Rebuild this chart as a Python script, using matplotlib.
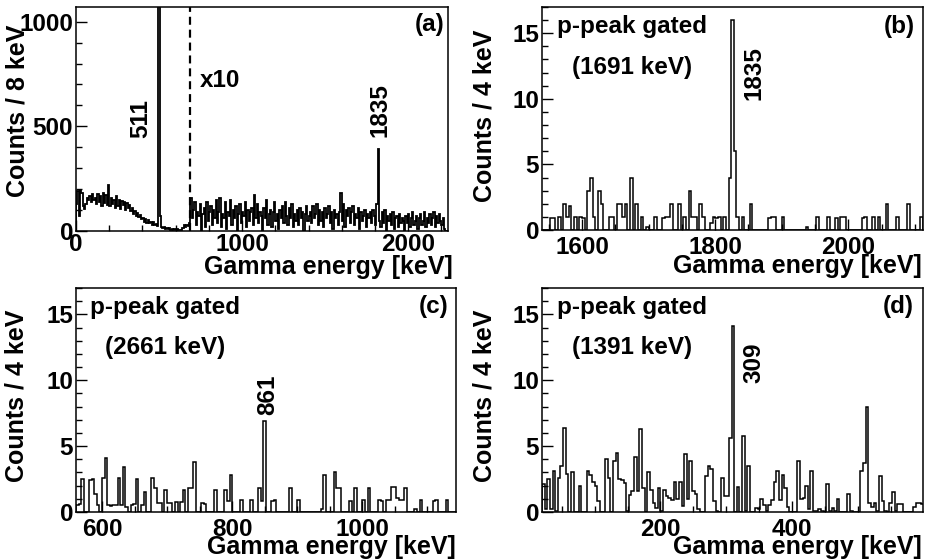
import numpy as np
import matplotlib
matplotlib.use("Agg")
import matplotlib.pyplot as plt

plt.rcParams['font.family'] = ['Liberation Sans', 'DejaVu Sans']
plt.rcParams['font.weight'] = 'bold'

# ---- panel (a): singles spectrum, 8 keV bins, above the cut shown x10 ----
a_step = 8
a_cut = 688
a_scale = 10
a_low = [130, 190, 70, 195, 180, 120, 105, 130, 160, 150,
         165, 140, 175, 150, 160, 130, 175, 140, 165, 120,
         180, 135, 170, 125, 220, 120, 160, 130, 150, 110,
         165, 120, 150, 105, 145, 125, 140, 100, 135, 110,
         125, 95, 110, 80, 95, 70, 85, 65, 75, 55,
         60, 45, 55, 40, 52, 38, 45, 30, 42, 28,
         35, 25, 1500, 70, 20, 15, 18, 10, 14, 8,
         12, 6, 10, 5, 9, 4, 8, 3, 6, 5,
         12, 28, 18, 30, 22, 40]
a_high = [16, 6, 10, 14, 3, 9, 7, 13, 0, 8,
          11, 2, 14, 5, 9, 12, 3, 10, 6, 15,
          4, 9, 16, 2, 8, 6, 14, 1, 9, 7,
          15, 3, 10, 6, 12, 0, 8, 13, 4, 9,
          7, 14, 2, 10, 5, 9, 11, 3, 17, 6,
          13, 4, 9, 7, 0, 11, 6, 15, 3, 8,
          10, 2, 9, 14, 5, 8, 1, 10, 6, 12,
          4, 14, 7, 3, 11, 6, 13, 2, 8, 5,
          10, 3, 11, 6, 9, 0, 8, 12, 5, 7,
          9, 4, 12, 6, 8, 13, 3, 10, 5, 9,
          2, 11, 6, 8, 12, 4, 9, 1, 10, 6,
          8, 3, 9, 18, 5, 13, 2, 10, 7, 11,
          4, 9, 12, 3, 8, 6, 11, 1, 9, 5,
          7, 10, 2, 8, 6, 9, 4, 10, 7, 3,
          13, 39, 5, 2, 9, 4, 10, 0, 7, 5,
          8, 3, 9, 1, 6, 7, 2, 8, 4, 6,
          5, 0, 7, 4, 8, 2, 6, 9, 3, 5,
          7, 1, 6, 8, 3, 5, 9, 2, 6, 4,
          8, 3, 6, 9, 2, 7, 4, 8, 5, 3,
          6, 1, 0, 0]

# ---- panels (b)-(d): gated spectra, 4 keV bins (bin start, counts) ----
b_energy = [1552, 1556, 1564, 1572, 1576, 1580, 1588, 1596, 1600, 1608,
            1612, 1616, 1624, 1628, 1640, 1644, 1652, 1656, 1660, 1664,
            1672, 1680, 1688, 1696, 1708, 1720, 1724, 1728, 1732, 1744,
            1752, 1760, 1764, 1768, 1776, 1780, 1792, 1796, 1800, 1804,
            1812, 1820, 1824, 1828, 1832, 1840, 1852, 1880, 1884, 1888,
            1900, 1936, 1952, 1968, 1980, 1988, 1992, 2020, 2024, 2036,
            2044, 2056, 2072, 2088, 2108]
b_counts = [0.9, 0.9, 1, 2, 1, 1.8, 1, 1, 0.9, 3,
            4, 1, 3, 2, 1, 1, 2, 2, 1, 2,
            4, 2, 1, 0.2, 1, 0.9, 1, 1, 2, 2,
            1, 3, 1, 1, 2, 1, 0.5, 1, 0.9, 1,
            1, 4, 16, 6, 1, 1, 2, 0.9, 1, 1,
            1, 0.2, 1, 1, 0.9, 1, 1, 0.9, 1, 1,
            1, 2, 1, 2, 1]

c_energy = [560, 564, 568, 580, 584, 588, 592, 600, 604, 608,
            612, 616, 620, 624, 628, 632, 636, 644, 648, 652,
            660, 664, 676, 680, 684, 688, 696, 700, 704, 712,
            720, 724, 732, 736, 740, 752, 756, 772, 788, 792,
            796, 812, 828, 840, 844, 848, 860, 864, 888, 900,
            936, 940, 956, 960, 964, 980, 988, 1000, 1008, 1024,
            1028, 1036, 1040, 1044, 1048, 1052, 1056, 1060, 1064, 1080,
            1088, 1108, 1112, 1128]
c_counts = [0.5, 0.6, 2.5, 2.4, 2.5, 1.4, 0.5, 2.6, 4.1, 0.5,
            0.45, 0.5, 0.55, 2.6, 0.5, 3.4, 0.4, 0.5, 0.6, 2.5,
            0.5, 1.5, 2.6, 1.8, 0.7, 0.65, 1.7, 0.7, 0.7, 0.75,
            0.75, 1.7, 1.8, 1.8, 3.8, 0.7, 0.6, 1.7, 1.7, 0.8,
            2.8, 0.9, 0.9, 1.8, 0.8, 6.9, 0.8, 0.9, 1.8, 0.9,
            0.2, 2.8, 3.0, 1.8, 1.8, 0.8, 1.8, 0.9, 1.8, 0.9,
            0.8, 0.9, 0.9, 1.9, 1.9, 1.1, 0.9, 0.9, 1.8, 0.2,
            0.9, 0.8, 0.9, 0.9]

d_energy = [20, 24, 28, 32, 36, 40, 44, 48, 52, 56,
            64, 76, 88, 92, 96, 100, 104, 116, 120, 128,
            132, 136, 140, 144, 148, 152, 156, 160, 164, 168,
            172, 180, 184, 188, 192, 196, 200, 204, 208, 212,
            216, 220, 224, 228, 232, 236, 240, 244, 248, 252,
            256, 268, 272, 276, 280, 284, 292, 296, 300, 304,
            308, 316, 324, 328, 332, 344, 348, 352, 356, 360,
            364, 368, 372, 376, 380, 384, 388, 392, 408, 412,
            416, 420, 424, 428, 432, 436, 440, 444, 452, 456,
            460, 464, 468, 484, 488, 504, 508, 512, 516, 520,
            524, 528, 532, 536, 540, 548, 552, 556, 560, 564,
            584, 588, 592, 596]
d_counts = [2.1, 0.2, 2.5, 0.2, 3.1, 0.1, 2.6, 3.5, 6.4, 2.9,
            3.0, 2.0, 3.1, 2.8, 2.3, 2.0, 0.8, 4.0, 2.6, 3.9,
            4.5, 2.5, 2.4, 2.2, 0.1, 1.3, 1.6, 4.2, 1.6, 6.3,
            1.8, 3.0, 1.7, 0.7, 0.3, 1.8, 0.1, 1.7, 1.2, 1.1,
            0.9, 2.3, 1.0, 2.3, 0.45, 4.4, 1.0, 3.9, 1.6, 1.4,
            0.2, 2.7, 3.5, 3.3, 0.8, 0.1, 2.6, 1.2, 1.2, 5.6,
            14.1, 1.9, 5.8, 0.1, 3.5, 0.3, 0.2, 1.0, 0.5, 0.1,
            0.5, 0.9, 2.3, 3.1, 0.9, 2.8, 1.8, 0.4, 3.9, 1.0,
            1.1, 2.0, 0.2, 3.1, 0.1, 0.1, 0.2, 0.1, 2.1, 0.1,
            0.3, 0.1, 1.0, 1.4, 0.1, 3.1, 3.7, 8.0, 0.7, 0.4,
            0.7, 0.1, 2.7, 0.8, 0.1, 0.7, 1.5, 0.1, 0.6, 0.6,
            0.4, 0.7, 0.7, 0.6]

W, H = 925, 559


def fx(x):
    return x / W


def fy(y):
    return 1 - y / H


def rect(left, top, right, bottom):
    return [left / W, 1 - bottom / H, (right - left) / W, (bottom - top) / H]


def to_hist(energy, counts, lo, hi, step=4):
    edges = np.arange(lo, hi + step, step)
    vals = np.zeros(len(edges) - 1)
    for e, c in zip(energy, counts):
        vals[int((e - lo) // step)] = c
    return edges, vals


def style(ax, xlim, ylim, xmaj, xmin_step, ymaj, ymin_step, xpad):
    ax.set_xticks(xmaj)
    ax.set_xticks(np.arange(0, xlim[1] + 1, xmin_step), minor=True)
    ax.set_yticks(ymaj)
    ax.set_yticks(np.arange(0, ylim[1] + 1, ymin_step), minor=True)
    ax.set_xlim(*xlim)
    ax.set_ylim(*ylim)
    ax.tick_params(which='both', direction='in', top=False, right=False,
                   labelsize=17.5, width=1.0)
    ax.tick_params(which='major', length=8)
    ax.tick_params(which='minor', length=4)
    ax.tick_params(axis='x', pad=xpad)
    ax.tick_params(axis='y', pad=2)
    for s in ax.spines.values():
        s.set_linewidth(1.1)


fig = plt.figure(figsize=(W / 100, H / 100), dpi=100)

# (a)
ax_a = fig.add_axes(rect(76, 7, 448, 231))
a_counts = np.concatenate([np.array(a_low, float),
                           np.array(a_high, float) * a_scale])
a_edges = np.arange(0, len(a_counts) * a_step + 1, a_step)
ax_a.stairs(a_counts, a_edges, color='black', lw=1.3, baseline=0)
ax_a.axvline(a_cut, color='black', lw=1.6, ls=(0, (3.6, 2.2)))
style(ax_a, (0, 2240), (0, 1070), [0, 1000, 2000], 200, [0, 500, 1000], 100, 1.5)

# (b)
ax_b = fig.add_axes(rect(542, 7, 923, 230))
e, v = to_hist(b_energy, b_counts, 1540, 2112)
ax_b.stairs(v, e, color='black', lw=1.1, baseline=0)
style(ax_b, (1540, 2112), (0, 17), [1600, 1800, 2000], 50, [0, 5, 10, 15], 1, 4)

# (c)
ax_c = fig.add_axes(rect(76, 288, 456, 512))
e, v = to_hist(c_energy, c_counts, 560, 1144)
ax_c.stairs(v, e, color='black', lw=1.1, baseline=0)
style(ax_c, (560, 1144), (0, 17), [600, 800, 1000], 50, [0, 5, 10, 15], 1, 4)

# (d)
ax_d = fig.add_axes(rect(542, 288, 923, 512))
e, v = to_hist(d_energy, d_counts, 20, 600)
ax_d.stairs(v, e, color='black', lw=1.1, baseline=0)
style(ax_d, (20, 599), (0, 17), [200, 400], 50, [0, 5, 10, 15], 1, 4)

fs = 17.5
# axis titles
for xr, yb in [(453, 274), (922, 273), (456, 554), (922, 554)]:
    fig.text(fx(xr), fy(yb), 'Gamma energy [keV]', ha='right', va='baseline',
             fontsize=18, fontweight='bold')
for cx, top, txt in [(18, 25, 'Counts / 8 keV'), (484, 30, 'Counts / 4 keV'),
                     (17, 310, 'Counts / 4 keV'), (484, 310, 'Counts / 4 keV')]:
    fig.text(fx(cx), fy(top), txt, rotation=90, ha='center', va='top',
             fontsize=18, fontweight='bold')

# panel tags
for xr, yt, tag in [(445, 13, '(a)'), (915, 15, '(b)'), (448, 295, '(c)'), (914, 295, '(d)')]:
    fig.text(fx(xr), fy(yt), tag, ha='right', va='top', fontsize=fs, fontweight='bold')

# gate notes
for xl, y1, y2, gate in [(557, 33, 74, '(1691 keV)'), (90, 314, 354, '(2661 keV)'),
                         (557, 314, 354, '(1391 keV)')]:
    fig.text(fx(xl), fy(y1), 'p-peak gated', ha='left', va='baseline',
             fontsize=fs, fontweight='bold')
    fig.text(fx(xl + 15), fy(y2), gate, ha='left', va='baseline',
             fontsize=fs, fontweight='bold')

# peak energies
for cx, yb, txt in [(141, 138, '511'), (380, 137, '1835'), (754, 100, '1835'),
                    (268, 415, '861'), (754, 383, '309')]:
    fig.text(fx(cx), fy(yb), txt, rotation=90, ha='center', va='bottom',
             fontsize=fs, fontweight='bold')

fig.text(fx(200), fy(87), 'x10', ha='left', va='baseline', fontsize=fs, fontweight='bold')

fig.savefig('out.png', dpi=100, facecolor='white')
